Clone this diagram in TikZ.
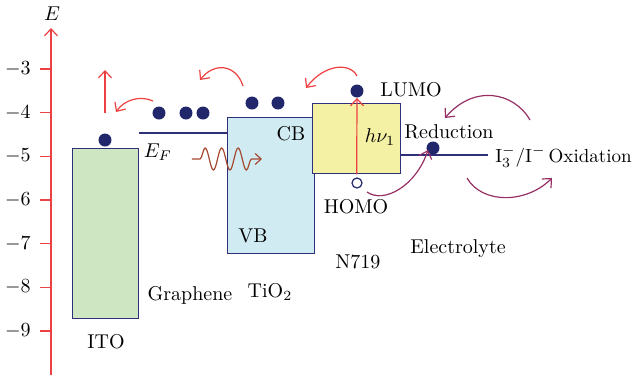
\documentclass[tikz,border=0pt]{standalone}
\usepackage{amsmath}
\usetikzlibrary{arrows.meta, decorations.pathmorphing, positioning}

\definecolor{axisred}{RGB}{238,64,64}
\definecolor{bandnavy}{RGB}{48,48,122}
\definecolor{dotnavy}{RGB}{34,38,106}
\definecolor{itogreen}{RGB}{206,230,194}
\definecolor{tiocyan}{RGB}{208,236,242}
\definecolor{dyeyellow}{RGB}{244,241,164}
\definecolor{redoxpurple}{RGB}{150,48,100}
\definecolor{photonbrown}{RGB}{165,72,48}

\begin{document}
\begin{tikzpicture}[x=0.5pt, y=-0.5pt,
    every node/.style={font=\fontsize{10}{12}\selectfont, inner sep=0pt},
    band/.style={draw=bandnavy, line width=0.7pt, anchor=north west, inner sep=0pt},
    level/.style={draw=bandnavy, line width=0.7pt},
    electron/.style={circle, fill=dotnavy, minimum size=6.5pt, inner sep=0pt},
    hole/.style={circle, draw=dotnavy, fill=white, line width=0.6pt, minimum size=5pt, inner sep=0pt},
    redarrow/.style={-{Straight Barb[length=3.5pt, width=6.5pt]}, axisred, line width=0.6pt},
    redoxarrow/.style={-{Straight Barb[length=3.5pt, width=6.5pt]}, redoxpurple, line width=0.6pt},
    photon/.style={-{Straight Barb[length=3pt, width=5.5pt]}, photonbrown, line width=0.6pt,
        decorate, decoration={snake, amplitude=5.5pt, segment length=8.25pt, pre length=4pt, post length=3.5pt}}
]
\useasboundingbox (0,0) rectangle (634,377);

% energy axis
\draw[redarrow] (51,375) -- (51,28) coordinate (axistop);
\node[anchor=base] (elabel) at (52,20) {$E$};
\foreach \v [count=\i from 0] in {3,...,9} {
  \draw[axisred, line width=0.6pt] (40,{69+43.67*\i}) -- (51,{69+43.67*\i});
  \node[anchor=east] (tick\v) at (31,{69+43.67*\i}) {$-\v$};
}

% bands
\node[band, fill=itogreen, minimum width=33pt, minimum height=85pt] (ito) at (72,148) {};
\node[band, fill=tiocyan, minimum width=43.5pt, minimum height=68pt] (tio2) at (227,117) {};
\node[band, fill=dyeyellow, minimum width=44pt, minimum height=35pt] (n719) at (312,103) {};

% levels
\coordinate (ef) at (139,133);
\draw[level] (ef) -- (ef -| tio2.west);
\coordinate (redox) at (488,155);
\draw[level] (redox -| n719.east) -- (redox);

% electrons and hole
\node[electron] (itoe) at (105,140) {};
\node[electron] (ge1) at (159,113) {};
\node[electron] (ge2) at (186,113) {};
\node[electron] (ge3) at (203,113) {};
\node[electron] (te1) at (252,103) {};
\node[electron] (te2) at (278,103) {};
\node[electron] (lumo) at (357,91) {};
\node[hole] (homo) at (357,183) {};
\node[electron] (redoxe) at (433,148) {};

% labels
\node[anchor=base] (eflabel) at (158,157) {$E_F$};
\node[anchor=base] (cblabel) at (291,140) {CB};
\node[anchor=base] (vblabel) at (253,242) {VB};
\node[anchor=base] (tiolabel) at (270,297) {TiO$_2$};
\node[anchor=base] (grlabel) at (190,300) {Graphene};
\node[anchor=base] (itolabel) at (106,348) {ITO};
\node[anchor=base] (dyelabel) at (358,268) {N719};
\node[anchor=base] (homolabel) at (356,213) {HOMO};
\node[anchor=base] (lumolabel) at (411,96) {LUMO};
\node[anchor=base] (hvlabel) at (380,142) {$h\nu_1$};
\node[anchor=base] (redlabel) at (449,138) {Reduction};
\node[anchor=base] (ellabel) at (458,253) {Electrolyte};
\node[anchor=base east, font=\fontsize{9.5}{12}\selectfont] (oxlabel) at (632,162) {I$_3^-$/I$^-$\,Oxidation};

% electron transfer
\coordinate (itoup) at (105,113);
\draw[redarrow] (itoup) -- (105,70);
\coordinate (gstart) at (153,101);
\coordinate (gend) at (116,112);
\draw[redarrow] (gstart) .. controls (140,95) and (124,100) .. (gend);
\coordinate (tstart) at (243,86);
\coordinate (tend) at (200,80);
\draw[redarrow] (tstart) .. controls (236,64) and (214,62) .. (tend);
\coordinate (dstart) at (357,76);
\coordinate (dend) at (306,88);
\draw[redarrow] (dstart) .. controls (350,62) and (324,64) .. (dend);
\draw[redarrow] (n719.south) -- (lumo.south);

% light
\coordinate (lightin) at (192,159);
\coordinate (lightout) at (262,159);
\draw[photon] (lightin) -- (lightout);

% redox cycle
\coordinate (hstart) at (367,192);
\coordinate (hend) at (428,150);
\draw[redoxarrow] (hstart) .. controls (384,204) and (416,186) .. (hend);
\coordinate (ostart) at (530,120);
\coordinate (oend) at (445,118);
\draw[redoxarrow] (ostart) .. controls (514,92) and (474,84) .. (oend);
\coordinate (rstart) at (467,178);
\coordinate (rend) at (552,178);
\draw[redoxarrow] (rstart) .. controls (482,204) and (526,204) .. (rend);
\end{tikzpicture}
\end{document}
